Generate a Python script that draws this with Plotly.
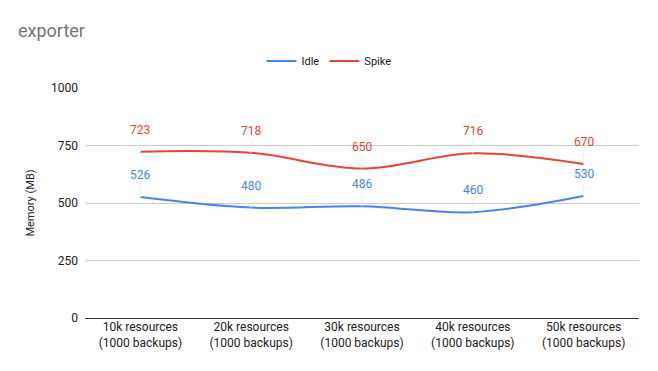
import plotly.graph_objects as go

categories = ["10k resources<br>(1000 backups)", "20k resources<br>(1000 backups)",
              "30k resources<br>(1000 backups)", "40k resources<br>(1000 backups)",
              "50k resources<br>(1000 backups)"]
idle = [526, 480, 486, 460, 530]
spike = [723, 718, 650, 716, 670]
y_ticks = [0, 250, 500, 750, 1000]

BLUE = "#4285F4"
RED = "#EA4335"

fig = go.Figure()
fig.add_trace(go.Scatter(x=categories, y=idle, name="Idle", mode="lines",
                         line=dict(color=BLUE, width=2, shape="spline", smoothing=1.0)))
fig.add_trace(go.Scatter(x=categories, y=spike, name="Spike", mode="lines",
                         line=dict(color=RED, width=2, shape="spline", smoothing=1.0)))

for series, color in ((idle, BLUE), (spike, RED)):
    for c, v in zip(categories, series):
        fig.add_annotation(x=c, y=v, text=str(v), showarrow=True, arrowhead=0,
                           arrowwidth=1, arrowcolor="#eeeeee", ax=0, ay=-22,
                           font=dict(color=color, size=12, family="Roboto, Arial"),
                           standoff=0, startstandoff=0)

fig.update_layout(
    width=658, height=371,
    margin=dict(l=85, r=19, t=88, b=53, autoexpand=False),
    paper_bgcolor="white", plot_bgcolor="white",
    font=dict(family="Roboto, Arial", size=12, color="#222"),
    title=dict(text="exporter", x=18/658, xref="container", xanchor="left",
               y=1 - 31/371, yref="container", yanchor="middle",
               font=dict(size=18, color="#757575")),
    legend=dict(orientation="h", x=0.5, xanchor="center", xref="container",
                y=1 - 61/371, yref="container", yanchor="middle",
                font=dict(size=11, color="#222"), itemwidth=30),
    showlegend=True,
)
fig.update_xaxes(range=[-0.5, 4.5], showgrid=False, showline=False, ticks="",
                 tickfont=dict(size=12, color="#222"), automargin=False)
fig.update_yaxes(range=[0, 1000], tickvals=y_ticks, showgrid=True, gridcolor="#cccccc",
                 zeroline=True, zerolinecolor="#333333", zerolinewidth=1,
                 title=dict(text="Memory (MB)", font=dict(size=11, color="#222"), standoff=14),
                 tickfont=dict(size=12, color="#222"), ticks="", ticklabelstandoff=6,
                 automargin=False)

fig.write_html("out.html", config={"displayModeBar": False},
               post_script="document.body.style.margin='0';")
